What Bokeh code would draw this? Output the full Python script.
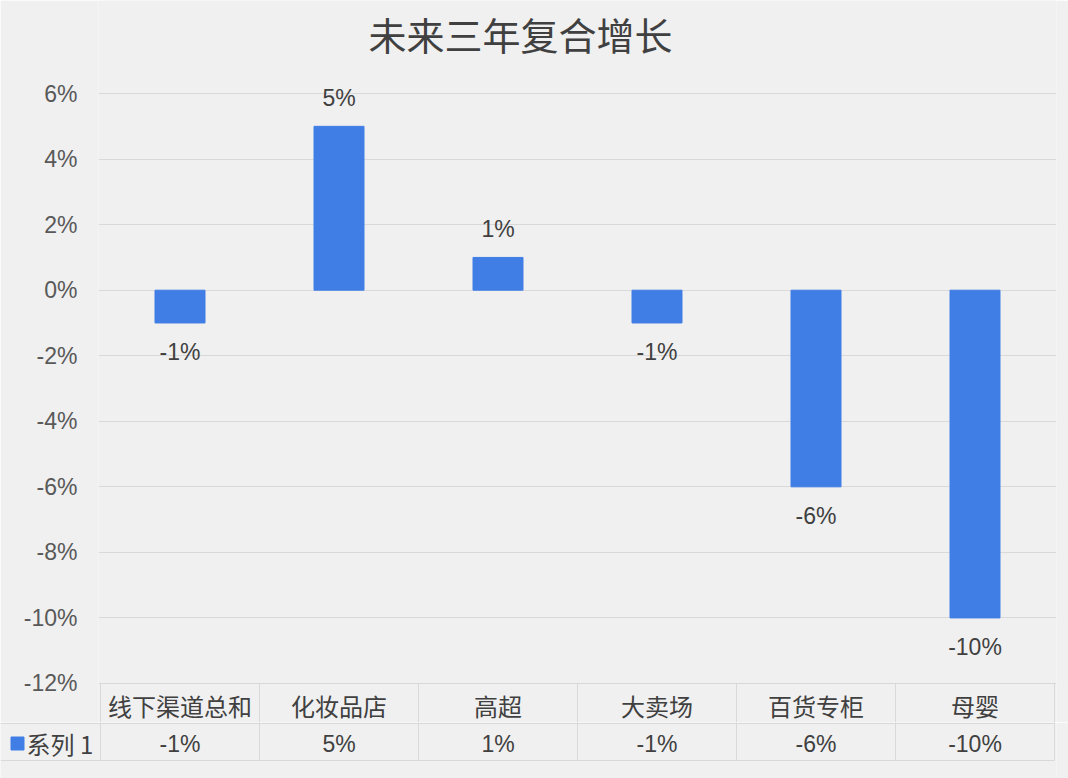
from bokeh.core.properties import value
from bokeh.embed import file_html
from bokeh.layouts import column
from bokeh.models import ColumnDataSource, FixedTicker, PrintfTickFormatter
from bokeh.plotting import figure
from bokeh.resources import INLINE

chart_title = "未来三年复合增长"
categories = ["线下渠道总和", "化妆品店", "高超", "大卖场", "百货专柜", "母婴"]
growth = [-1, 5, 1, -1, -6, -10]
series_name = "系列 1"
y_ticks = [-12, -10, -8, -6, -4, -2, 0, 2, 4, 6]

BG = "#f0f0f0"
BAR = "#407ee6"
TEXT = "#404040"
GRID = "#d9d9d9"
CJK = value("Noto Sans CJK SC")
LATIN = value("Liberation Sans")

# pixel scale of the reference: one category = 159px, one percent = 32.75px
px = 159
py = 32.75
W, H = 1068, 778
split = 722            # canvas row where the chart ends and the value row begins
row1 = -12 - 40 / py   # line between header row and value row
row2 = -12 - 77 / py   # bottom of the table
n = len(categories)

x = [i + 0.5 for i in range(n)]
labels = [f"{v}%" for v in growth]
src = ColumnDataSource(dict(
    x=x, top=growth, label=labels, cat=categories,
    off=[-28 if v >= 0 else 29 for v in growth],
))


def style(fig):
    fig.background_fill_color = BG
    fig.border_fill_color = BG
    fig.outline_line_color = None


# ---- chart with the header row of the table ----
p = figure(width=W, height=split,
           x_range=(-2 / px, n + 2 / px),
           y_range=(-12 - (split - 683) / py, 6 + 93 / py),
           x_axis_type=None, output_backend="svg", toolbar_location=None,
           min_border_left=98, min_border_right=W - 1056,
           min_border_top=0, min_border_bottom=0, frame_align=False)
style(p)
p.yaxis.ticker = FixedTicker(ticks=y_ticks)
p.yaxis.formatter = PrintfTickFormatter(format="%d%%")
p.yaxis.axis_line_color = None
p.yaxis.major_tick_line_color = None
p.yaxis.minor_tick_line_color = None
p.yaxis.major_label_standoff = 15
p.yaxis.major_label_text_font = "Liberation Sans"
p.yaxis.major_label_text_font_size = "23px"
p.yaxis.major_label_text_color = "#595959"
p.ygrid.grid_line_color = GRID

p.text(x=[(520 - 100) / px], y=[6 + (93 - 32.5) / py], text=[chart_title],
       text_font=CJK, text_font_size="38px", text_color=TEXT,
       text_align="center", text_baseline="middle")

p.vbar(x="x", top="top", bottom=0, width=50 / px, color=BAR, source=src)
p.text(x="x", y="top", text="label", y_offset="off", source=src,
       text_font=LATIN, text_font_size="23px", text_color=TEXT,
       text_align="center", text_baseline="middle")

p.segment(x0=list(range(n + 1)), x1=list(range(n + 1)),
          y0=[-12] * (n + 1), y1=[row2] * (n + 1),
          line_color=GRID, line_width=1)
p.text(x="x", y=-12 - 22 / py, text="cat", source=src, text_font=CJK,
       text_font_size="24px", text_color=TEXT, text_align="center",
       text_baseline="middle")

# ---- value row of the table ----
t = figure(width=W, height=H - split,
           x_range=(-100 / px, n + 2 / px),
           y_range=(-12 - (H - 683) / py, -12 - (split - 683) / py),
           x_axis_type=None, y_axis_type=None,
           output_backend="svg", toolbar_location=None,
           min_border_left=0, min_border_right=W - 1056,
           min_border_top=0, min_border_bottom=0, frame_align=False)
style(t)
t.segment(x0=list(range(n + 1)), x1=list(range(n + 1)),
          y0=[-12] * (n + 1), y1=[row2] * (n + 1),
          line_color=GRID, line_width=1)
t.segment(x0=[-100 / px] * 2, x1=[n, n], y0=[row1, row2], y1=[row1, row2],
          line_color=GRID, line_width=1)
t.text(x="x", y=-12 - 60 / py, text="label", source=src, text_font=LATIN,
       text_font_size="23px", text_color=TEXT, text_align="center",
       text_baseline="middle")

# legend key and series name
t.rect(x=[(17 - 100) / px], y=[-12 - 60 / py], width=13, height=13,
       width_units="screen", height_units="screen", color=BAR)
t.text(x=[(26 - 100) / px], y=[-12 - 60 / py], text=[series_name],
       text_font=CJK, text_font_size="24px", text_color=TEXT,
       text_align="left", text_baseline="middle")

page = column(p, t, spacing=0)
open("out.html", "w").write(file_html(page, INLINE))
